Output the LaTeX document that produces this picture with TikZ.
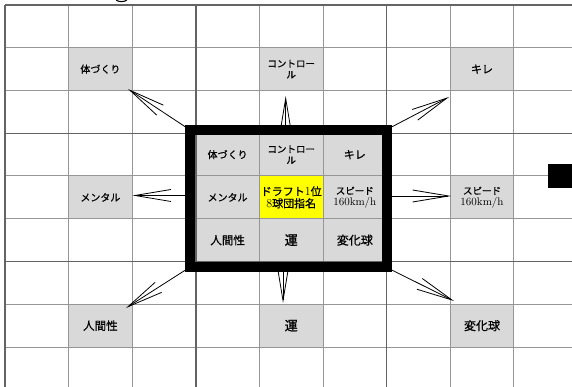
\documentclass[tikz,border=0pt]{standalone}
\usepackage{fontspec}
\newfontfamily\jp{Noto Sans CJK JP}[FakeBold=0.8]
\usetikzlibrary{arrows.meta}
\definecolor{cellgray}{RGB}{217,217,217}
\definecolor{thinline}{RGB}{150,150,150}
\definecolor{thickline}{RGB}{100,100,100}
\definecolor{hiyellow}{RGB}{255,255,0}
\tikzset{
  gcell/.style={fill=cellgray, draw=none, inner sep=0pt, minimum width=63.6pt, minimum height=42.75pt, align=center, font=\jp\fontsize{9.5}{11}\selectfont},
  ycell/.style={gcell, fill=hiyellow},
  thinl/.style={draw=thinline, line width=1pt},
  thickl/.style={draw=thickline, line width=1.4pt},
  arr/.style={draw=black, line width=0.8pt, -{Straight Barb[length=36pt,width=12pt]}},
  coreframe/.style={draw=black, line width=6.5pt, fill=none, inner sep=0pt, minimum width=193.5pt, minimum height=133pt}
}
\newcommand{\lat}[1]{{\fontspec{Latin Modern Roman}#1}}
\begin{document}
\begin{tikzpicture}[x=1pt,y=-1pt]
\useasboundingbox (0,0) rectangle (572,387);
\fill[white] (0,0) rectangle (572,387);
% outer gray cells
\node[gcell, font=\jp\fontsize{10}{11}\selectfont] (bodyO) at ({5+63.6*1.5},{5+42.75*1.5}) {体づくり};
\node[gcell] (ctrlO) at ({5+63.6*4.5},{5+42.75*1.5}) {コントロー\\ル};
\node[gcell, font=\jp\fontsize{11}{11}\selectfont] (kireO) at ({5+63.6*7.5},{5+42.75*1.5}) {キレ};
\node[gcell, font=\jp\fontsize{10}{11}\selectfont] (mentO) at ({5+63.6*1.5},{5+42.75*4.5}) {メンタル};
\node[gcell] (spdO) at ({5+63.6*7.5},{5+42.75*4.5}) {スピード\\\lat{\fontsize{11}{11}\selectfont 160km/h}};
\node[gcell, font=\jp\fontsize{11.5}{11}\selectfont] (humO) at ({5+63.6*1.5},{5+42.75*7.5}) {人間性};
\node[gcell, font=\jp\fontsize{13}{13}\selectfont] (luckO) at ({5+63.6*4.5},{5+42.75*7.5}) {運};
\node[gcell, font=\jp\fontsize{12}{11}\selectfont] (brkO) at ({5+63.6*7.5},{5+42.75*7.5}) {変化球};
% center block
\node[gcell, font=\jp\fontsize{10}{11}\selectfont] (bodyC) at ({5+63.6*3.5},{5+42.75*3.5}) {体づくり};
\node[gcell] (ctrlC) at ({5+63.6*4.5},{5+42.75*3.5}) {コントロー\\ル};
\node[gcell, font=\jp\fontsize{11}{11}\selectfont] (kireC) at ({5+63.6*5.5},{5+42.75*3.5}) {キレ};
\node[gcell, font=\jp\fontsize{10}{11}\selectfont] (mentC) at ({5+63.6*3.5},{5+42.75*4.5}) {メンタル};
\node[ycell, font=\jp\fontsize{11}{12}\selectfont] (goal) at ({5+63.6*4.5},{5+42.75*4.5}) {ドラフト\lat{\fontsize{12}{12}\selectfont 1}位\\\lat{\fontsize{12}{12}\selectfont 8}球団指名};
\node[gcell] (spdC) at ({5+63.6*5.5},{5+42.75*4.5}) {スピード\\\lat{\fontsize{11}{11}\selectfont 160km/h}};
\node[gcell, font=\jp\fontsize{11.5}{11}\selectfont] (humC) at ({5+63.6*3.5},{5+42.75*5.5}) {人間性};
\node[gcell, font=\jp\fontsize{13}{13}\selectfont] (luckC) at ({5+63.6*4.5},{5+42.75*5.5}) {運};
\node[gcell, font=\jp\fontsize{12}{11}\selectfont] (brkC) at ({5+63.6*5.5},{5+42.75*5.5}) {変化球};
% grid
\foreach \i in {0,...,9} {
  \draw[thinl] ({5+63.6*\i},5) -- ({5+63.6*\i},390);
  \draw[thinl] (5,{5+42.75*\i}) -- (580,{5+42.75*\i});
}
\foreach \i in {0,3,6,9} {
  \draw[thickl] ({5+63.6*\i},5) -- ({5+63.6*\i},390);
  \draw[thickl] (5,{5+42.75*\i}) -- (580,{5+42.75*\i});
}
% central frame
\node[coreframe] (core) at (288.25,198.5) {};
% arrow tips
\coordinate (tUL) at (128,89);
\coordinate (tT) at (285.7,96);
\coordinate (tUR) at (449,97);
\coordinate (tL) at (132.5,195.5);
\coordinate (tR) at (451,196);
\coordinate (tLL) at (126,308);
\coordinate (tB) at (283,303);
\coordinate (tLR) at (454,301);
\draw[arr] (core.north west) -- (tUL);
\draw[arr] (core.north -| tT) -- (tT);
\draw[arr] (core.north east) -- (tUR);
\draw[arr] (core.west |- tL) -- (tL);
\draw[arr] (core.east |- tR) -- (tR);
\draw[arr] (core.south west) -- (tLL);
\draw[arr] (core.south -| tB) -- (tB);
\draw[arr] (core.south east) -- (tLR);
% redraw frame on top
\draw[draw=black, line width=6.5pt] (core.north west) rectangle (core.south east);
% black square at right
\fill[black] (548,164) rectangle (573,188);
% fragment of cut-off glyph at top
\draw[line width=1.1pt] (121.5,-2) ellipse (6.5pt and 3.6pt);
\end{tikzpicture}
\end{document}
